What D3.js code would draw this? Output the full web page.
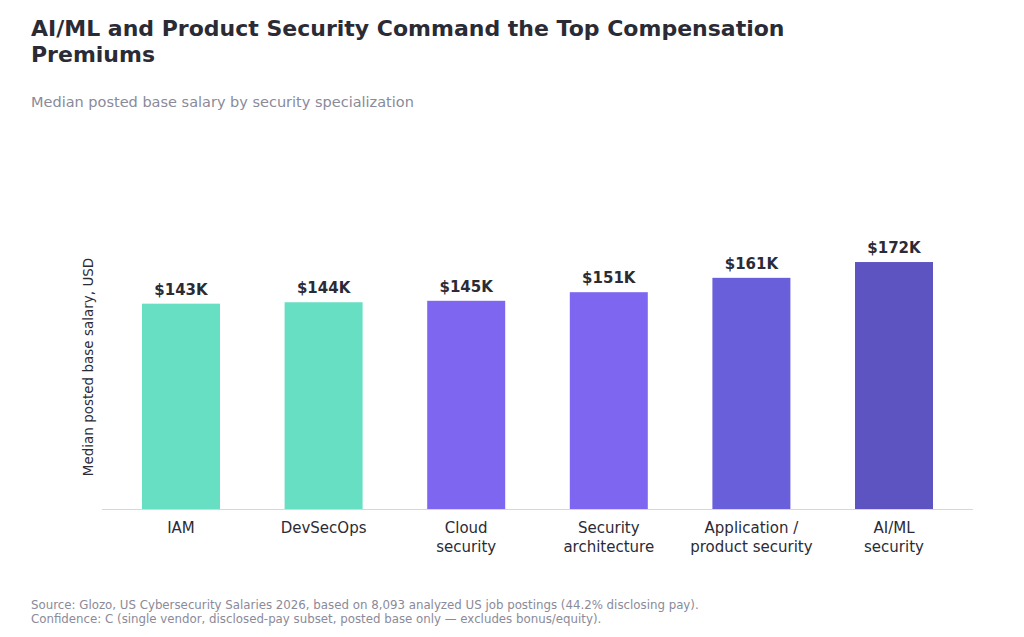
<!DOCTYPE html><html><head><meta charset="utf-8"><script src="https://cdn.jsdelivr.net/npm/d3@7"></script>
<style>body{margin:0;background:#fff;font-family:"DejaVu Sans",sans-serif}</style></head><body><svg width="1024" height="637"></svg>
<script>
const categories=[["IAM"],["DevSecOps"],["Cloud","security"],["Security","architecture"],["Application /","product security"],["AI/ML","security"]];
const values=[143,144,145,151,161,172];
const colors=["#67dfc3","#67dfc3","#7f66f0","#7f66f0","#6a5fdb","#5d53c1"];
const svg=d3.select("svg");
const x=d3.scaleBand().domain(d3.range(6)).range([142,933]).paddingInner(0.453).paddingOuter(0);
const y=d3.scaleLinear().domain([0,257]).range([509,140]);
svg.append("text").attr("x",31).attr("y",36).attr("font-size",22).attr("font-weight","bold").attr("fill","#2b2b36").text("AI/ML and Product Security Command the Top Compensation");
svg.append("text").attr("x",31).attr("y",62).attr("font-size",22).attr("font-weight","bold").attr("fill","#2b2b36").text("Premiums");
svg.append("text").attr("x",31).attr("y",107).attr("font-size",14.5).attr("fill","#8a8a99").text("Median posted base salary by security specialization");
svg.selectAll("rect.b").data(values).join("rect").attr("x",(d,i)=>x(i)).attr("width",x.bandwidth()).attr("y",d=>y(d)).attr("height",d=>y(0)-y(d)).attr("fill",(d,i)=>colors[i]);
svg.selectAll("text.v").data(values).join("text").attr("x",(d,i)=>x(i)+x.bandwidth()/2).attr("y",d=>y(d)-9).attr("text-anchor","middle").attr("font-size",15).attr("font-weight","bold").attr("fill","#2b2b36").text(d=>"$"+d+"K");
svg.append("line").attr("x1",102).attr("x2",973).attr("y1",509.5).attr("y2",509.5).attr("stroke","#d8d4e6");
categories.forEach((c,i)=>c.forEach((t,j)=>svg.append("text").attr("x",x(i)+x.bandwidth()/2).attr("y",533+j*19).attr("text-anchor","middle").attr("font-size",15).attr("fill","#2b2b36").text(t)));
svg.append("text").attr("transform","translate(93,367) rotate(-90)").attr("text-anchor","middle").attr("font-size",13.5).attr("fill","#2b2b36").text("Median posted base salary, USD");
svg.append("text").attr("x",31).attr("y",609).attr("font-size",11.8).attr("fill","#8a8a99").text("Source: Glozo, US Cybersecurity Salaries 2026, based on 8,093 analyzed US job postings (44.2% disclosing pay).");
svg.append("text").attr("x",31).attr("y",623).attr("font-size",11.8).attr("fill","#8a8a99").text("Confidence: C (single vendor, disclosed-pay subset, posted base only — excludes bonus/equity).");
</script></body></html>
